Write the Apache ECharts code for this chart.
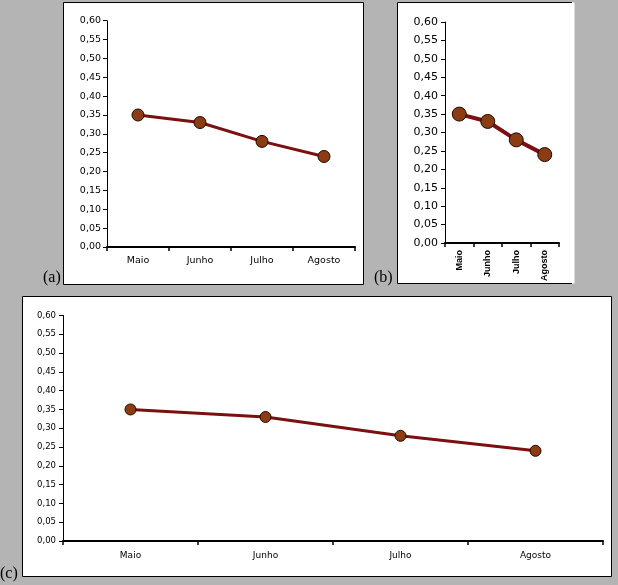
<!DOCTYPE html>
<html>
<head>
<meta charset="utf-8">
<script src="https://cdn.jsdelivr.net/npm/echarts@6/dist/echarts.min.js"></script>
<style>
  html, body { margin: 0; padding: 0; background: #b4b4b4; }
  #chart { width: 618px; height: 585px; }
</style>
</head>
<body>
<div id="chart"></div>
<script>
// dados do gráfico
const months = ['Maio', 'Junho', 'Julho', 'Agosto'];
const values = [0.35, 0.33, 0.28, 0.24];
const yMin = 0;
const yMax = 0.6;
const yStep = 0.05;
const panelTags = ['(a)', '(b)', '(c)'];

const chart = echarts.init(document.getElementById('chart'), null, { renderer: 'canvas' });

const lineColor = '#7a1010';
const dotColor = '#8b3c12';
const fontSans = 'DejaVu Sans';

// "0,35" em vez de "0.35"
function fmt(v) {
    return v.toFixed(2).replace('.', ',');
}

function yAxisFor(idx, fontSize, margin) {
    return {
        gridIndex: idx,
        type: 'value',
        min: yMin,
        max: yMax,
        interval: yStep,
        axisLine: { show: true, lineStyle: { color: '#000', width: 1 } },
        axisTick: { show: true, length: 4, lineStyle: { color: '#000' } },
        splitLine: { show: false },
        axisLabel: {
            formatter: fmt,
            color: '#000',
            fontFamily: fontSans,
            fontSize: fontSize,
            margin: margin
        }
    };
}

function xAxisFor(idx, label) {
    return {
        gridIndex: idx,
        type: 'category',
        data: months,
        boundaryGap: true,
        axisLine: { show: true, lineStyle: { color: '#000', width: 2 } },
        axisTick: { show: true, length: 4, lineStyle: { color: '#000', width: 1.5 } },
        axisLabel: Object.assign({ color: '#000', fontFamily: fontSans, interval: 0 }, label)
    };
}

function seriesFor(idx, size, width) {
    return {
        type: 'line',
        xAxisIndex: idx,
        yAxisIndex: idx,
        data: values,
        symbol: 'circle',
        symbolSize: size,
        lineStyle: { color: lineColor, width: width },
        itemStyle: { color: dotColor, borderColor: '#1e0800', borderWidth: 1 },
        z: 3
    };
}

const option = {
    backgroundColor: '#b4b4b4',
    animation: false,
    grid: [
        { left: 107, top: 20.7, width: 248, height: 226.3 },
        { left: 445, top: 22, width: 114, height: 221 },
        { left: 63, top: 315.5, width: 540, height: 225.5 }
    ],
    xAxis: [
        xAxisFor(0, { fontSize: 9.5, margin: 9 }),
        xAxisFor(1, { fontSize: 9, fontWeight: 'bold', fontFamily: 'Liberation Sans', rotate: 90, margin: 7 }),
        xAxisFor(2, { fontSize: 9, margin: 10 })
    ],
    yAxis: [
        yAxisFor(0, 9.5, 6),
        yAxisFor(1, 11, 7),
        yAxisFor(2, 8.5, 7)
    ],
    series: [
        seriesFor(0, 12, 3),
        seriesFor(1, 14, 4),
        seriesFor(2, 11, 3)
    ],
    graphic: [
        // caixas brancas
        { type: 'rect', z: -10, shape: { x: 63.5, y: 2.5, width: 300, height: 282 },
          style: { fill: '#fff', stroke: '#000', lineWidth: 1 } },
        { type: 'rect', z: -10, shape: { x: 397.5, y: 2.5, width: 177, height: 281 },
          style: { fill: '#fff' } },
        { type: 'polyline', z: -9, shape: { points: [[572, 2.5], [397.5, 2.5], [397.5, 283.5], [572, 283.5]] },
          style: { fill: null, stroke: '#000', lineWidth: 1 } },
        { type: 'rect', z: -10, shape: { x: 22.5, y: 296.5, width: 589, height: 280 },
          style: { fill: '#fff', stroke: '#000', lineWidth: 1 } },
        // rótulos (a), (b), (c)
        { type: 'text', left: 43, top: 270, style: { text: panelTags[0], font: '16px "Liberation Serif"', fill: '#000' } },
        { type: 'text', left: 374, top: 270, style: { text: panelTags[1], font: '16px "Liberation Serif"', fill: '#000' } },
        { type: 'text', left: 0, top: 566, style: { text: panelTags[2], font: '16px "Liberation Serif"', fill: '#000' } }
    ]
};

chart.setOption(option);
</script>
</body>
</html>
